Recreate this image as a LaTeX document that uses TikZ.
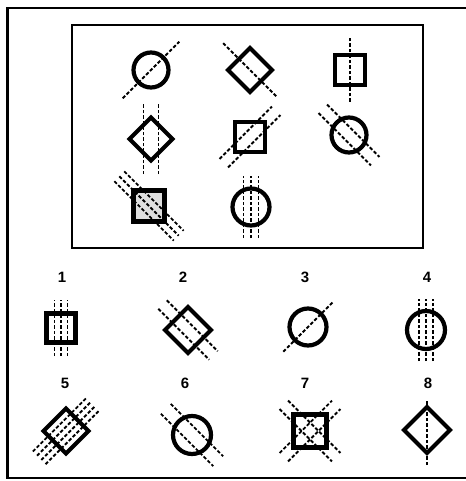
\documentclass[tikz,border=0pt]{standalone}
\usepackage{fontspec}
\setmainfont{Liberation Sans}
\usetikzlibrary{calc}
\begin{document}
\begin{tikzpicture}[x=1pt,y=-1pt,
  shp/.style={line width=4.2pt,line join=miter},
  dl/.style={line width=1.8pt,dash pattern=on 3.5pt off 2pt},
  frm/.style={line width=2.4pt},
  lbl/.style={font=\fontsize{15}{15}\selectfont\bfseries,inner sep=0pt}]
\newcommand{\dlset}[5]{\begin{scope}[shift={(#1,#2)},rotate=#3]\foreach \o in {#5}{\draw[dl] (-#4,\o) -- (#4,\o);}\end{scope}}
\newcommand{\circshape}[3]{\draw[shp] (#1,#2) circle[radius=#3];}
\newcommand{\sqshape}[3]{\draw[shp] ($(#1,#2)+(-#3,-#3)$) rectangle ($(#1,#2)+(#3,#3)$);}
\newcommand{\diashape}[3]{\draw[shp] ($(#1,#2)+(0,-#3)$) -- ($(#1,#2)+(#3,0)$) -- ($(#1,#2)+(0,#3)$) -- ($(#1,#2)+(-#3,0)$) -- cycle;}
\useasboundingbox (0,0) rectangle (465,481);
% outer frame
\draw[frm] (470,8) -- (7.5,8) -- (7.5,478) -- (470,478);
% inner rectangle
\draw[line width=2.8pt] (72,25) rectangle (423,248);
% row 1
\dlset{151}{70}{45}{40}{0}
\circshape{151}{70}{17.5}
\dlset{250}{70}{-45}{38}{0}
\diashape{250}{70}{22}
\dlset{350}{70}{90}{32}{0}
\sqshape{350}{70}{15}
% row 2
\dlset{151}{139}{90}{35}{-7.5,7.5}
\diashape{151}{139}{21.5}
\dlset{250}{137}{45}{37}{-6,6}
\sqshape{250}{137}{15}
\dlset{349}{135}{-45}{37}{-6,6}
\circshape{349}{135}{17.5}
% row 3
\fill[gray!25] (133.5,190.5) rectangle (164.5,221.5);
\dlset{149}{206}{-45}{42}{-7,0,7}
\sqshape{149}{206}{15.5}
\dlset{251}{207}{90}{31}{-7.5,0,7.5}
\circshape{251}{207}{18.5}
% labels
\node[lbl] (n1) at (62,277) {1};
\node[lbl] (n2) at (183,277) {2};
\node[lbl] (n3) at (305,277) {3};
\node[lbl] (n4) at (427,277) {4};
\node[lbl] (n5) at (65,383) {5};
\node[lbl] (n6) at (185,383) {6};
\node[lbl] (n7) at (305,383) {7};
\node[lbl] (n8) at (428,383) {8};
% bottom row 1
\dlset{61}{328}{90}{28}{-6.5,0,6.5}
\sqshape{61}{328}{14.5}
\dlset{188}{330}{-45}{36}{-6,6}
\diashape{188}{330}{23}
\dlset{308}{327}{45}{35}{0}
\circshape{308}{327}{18.5}
\dlset{426}{330}{90}{31}{-7,0,7}
\circshape{426}{330}{19}
% bottom row 2
\dlset{66}{431}{45}{38}{-9,-3,3,9}
\diashape{66}{431}{22.5}
\dlset{192}{435}{-45}{37}{-7,7}
\circshape{192}{435}{19}
\dlset{310}{431}{-45}{37}{-6,6}
\dlset{310}{431}{45}{37}{-6,6}
\sqshape{310}{431}{16.5}
\dlset{427}{433}{90}{32}{0}
\diashape{427}{430}{23}
\end{tikzpicture}
\end{document}
